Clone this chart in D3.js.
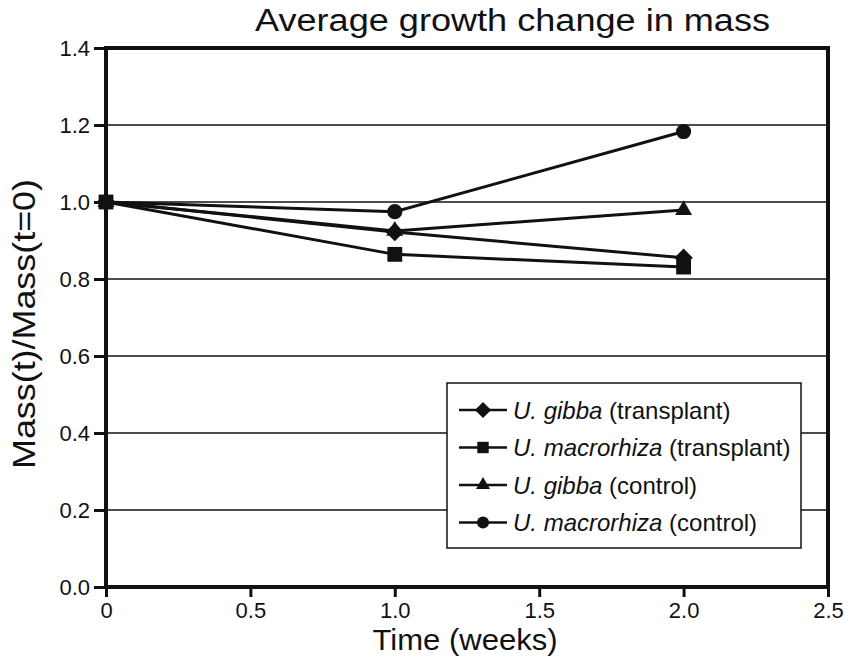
<!DOCTYPE html>
<html>
<head>
<meta charset="utf-8">
<script src="https://cdn.jsdelivr.net/npm/d3@7"></script>
<style>
  html, body { margin: 0; padding: 0; background: #fff; }
  svg { display: block; font-family: "Liberation Sans", Arial, sans-serif; }
</style>
</head>
<body>
<svg id="chart" width="851" height="661"></svg>
<script>
// ---- data ----
const times = [0, 1.0, 2.0];
const gibbaTransplant = [1.0, 0.922, 0.855];
const macroTransplant = [1.0, 0.864, 0.831];
const gibbaControl = [1.0, 0.925, 0.979];
const macroControl = [1.0, 0.975, 1.183];
const seriesNames = ["U. gibba|(transplant)", "U. macrorhiza|(transplant)", "U. gibba|(control)", "U. macrorhiza|(control)"];
const seriesSymbols = ["diamond", "square", "triangle", "circle"];
const xTicks = [0, 0.5, 1.0, 1.5, 2.0, 2.5];
const xTickLabels = ["0", "0.5", "1.0", "1.5", "2.0", "2.5"];
const yTicks = [0.0, 0.2, 0.4, 0.6, 0.8, 1.0, 1.2, 1.4];
const gridValues = [0.2, 0.4, 0.6, 0.8, 1.0, 1.2];

const series = [gibbaTransplant, macroTransplant, gibbaControl, macroControl].map((vals, i) => ({
  name: seriesNames[i], symbol: seriesSymbols[i],
  points: vals.map((v, j) => ({ t: times[j], v }))
}));

const svg = d3.select("#chart");
const m = { left: 106, right: 828, top: 48, bottom: 587 };
const x = d3.scaleLinear().domain([0, 2.5]).range([m.left, m.right]);
const y = d3.scaleLinear().domain([0, 1.4]).range([m.bottom, m.top]);

// gridlines
svg.append("g").selectAll("line").data(gridValues).join("line")
  .attr("x1", m.left).attr("x2", m.right)
  .attr("y1", d => y(d)).attr("y2", d => y(d))
  .attr("stroke", "#111").attr("stroke-width", 1.6);

// axes
const xAxis = svg.append("g").attr("transform", `translate(0,${m.bottom})`)
  .call(d3.axisBottom(x).tickValues(xTicks).tickFormat((d, i) => xTickLabels[i]).tickSize(10).tickPadding(3));
const yAxis = svg.append("g").attr("transform", `translate(${m.left},0)`)
  .call(d3.axisLeft(y).tickValues(yTicks).tickFormat(d3.format(".1f")).tickSize(12).tickPadding(4));
[xAxis, yAxis].forEach(a => {
  a.select(".domain").remove();
  a.selectAll(".tick line").attr("stroke", "#111").attr("stroke-width", 3);
  a.selectAll(".tick text").attr("fill", "#111").attr("font-size", 22)
    .attr("font-family", "'Liberation Sans', Arial, sans-serif");
});
xAxis.selectAll(".tick text").attr("dy", "0.8em");

// frame
svg.append("rect").attr("x", m.left).attr("y", m.top)
  .attr("width", m.right - m.left).attr("height", m.bottom - m.top)
  .attr("fill", "none").attr("stroke", "#111").attr("stroke-width", 4);

// symbols
const symType = { diamond: d3.symbolSquare, square: d3.symbolSquare, triangle: d3.symbolTriangle, circle: d3.symbolCircle };
const symRot = { diamond: 45, square: 0, triangle: 0, circle: 0 };
const symSize = { diamond: 170, square: 220, triangle: 125, circle: 180 };
const legendSizes = { diamond: 130, square: 130, triangle: 85, circle: 115 };
const symbolPath = (s, sz) => d3.symbol().type(symType[s]).size(sz)();

// lines
const line = d3.line().x(d => x(d.t)).y(d => y(d.v));
const gS = svg.append("g");
series.forEach(s => {
  gS.append("path").datum(s.points).attr("d", line)
    .attr("fill", "none").attr("stroke", "#111").attr("stroke-width", 3);
});
const drawOrder = [3, 2, 1, 0];
drawOrder.forEach(i => {
  const s = series[i];
  gS.selectAll(null).data(s.points).join("path")
    .attr("transform", d => `translate(${x(d.t)},${y(d.v)}) rotate(${symRot[s.symbol]})`)
    .attr("d", symbolPath(s.symbol, symSize[s.symbol])).attr("fill", "#111");
});

// legend
const lg = svg.append("g");
lg.append("rect").attr("x", 447).attr("y", 383).attr("width", 354).attr("height", 165)
  .attr("fill", "#fff").attr("stroke", "#111").attr("stroke-width", 1.5);
series.forEach((s, i) => {
  const yy = 410 + i * 37.5;
  lg.append("line").attr("x1", 459).attr("x2", 507).attr("y1", yy).attr("y2", yy)
    .attr("stroke", "#111").attr("stroke-width", 2.5);
  lg.append("path").attr("transform", `translate(483,${yy}) rotate(${symRot[s.symbol]})`)
    .attr("d", symbolPath(s.symbol, legendSizes[s.symbol])).attr("fill", "#111");
  const [sp, rest] = s.name.split("|");
  const t = lg.append("text").attr("x", 513).attr("y", yy).attr("dy", "0.36em")
    .attr("font-size", 24).attr("fill", "#111");
  t.append("tspan").attr("font-style", "italic").text(sp);
  t.append("tspan").text(" " + rest);
});

// titles
svg.append("text").attr("x", 512.5).attr("y", 31).attr("text-anchor", "middle")
  .attr("font-size", 31).attr("textLength", 515).attr("lengthAdjust", "spacingAndGlyphs")
  .attr("fill", "#111").text("Average growth change in mass");
svg.append("text").attr("x", 465).attr("y", 650).attr("text-anchor", "middle")
  .attr("font-size", 30).attr("textLength", 185).attr("lengthAdjust", "spacingAndGlyphs")
  .attr("fill", "#111").text("Time (weeks)");
svg.append("text").attr("transform", "translate(35,324) rotate(-90)").attr("text-anchor", "middle")
  .attr("font-size", 31).attr("textLength", 290).attr("lengthAdjust", "spacingAndGlyphs")
  .attr("fill", "#111").text("Mass(t)/Mass(t=0)");
</script>
</body>
</html>
